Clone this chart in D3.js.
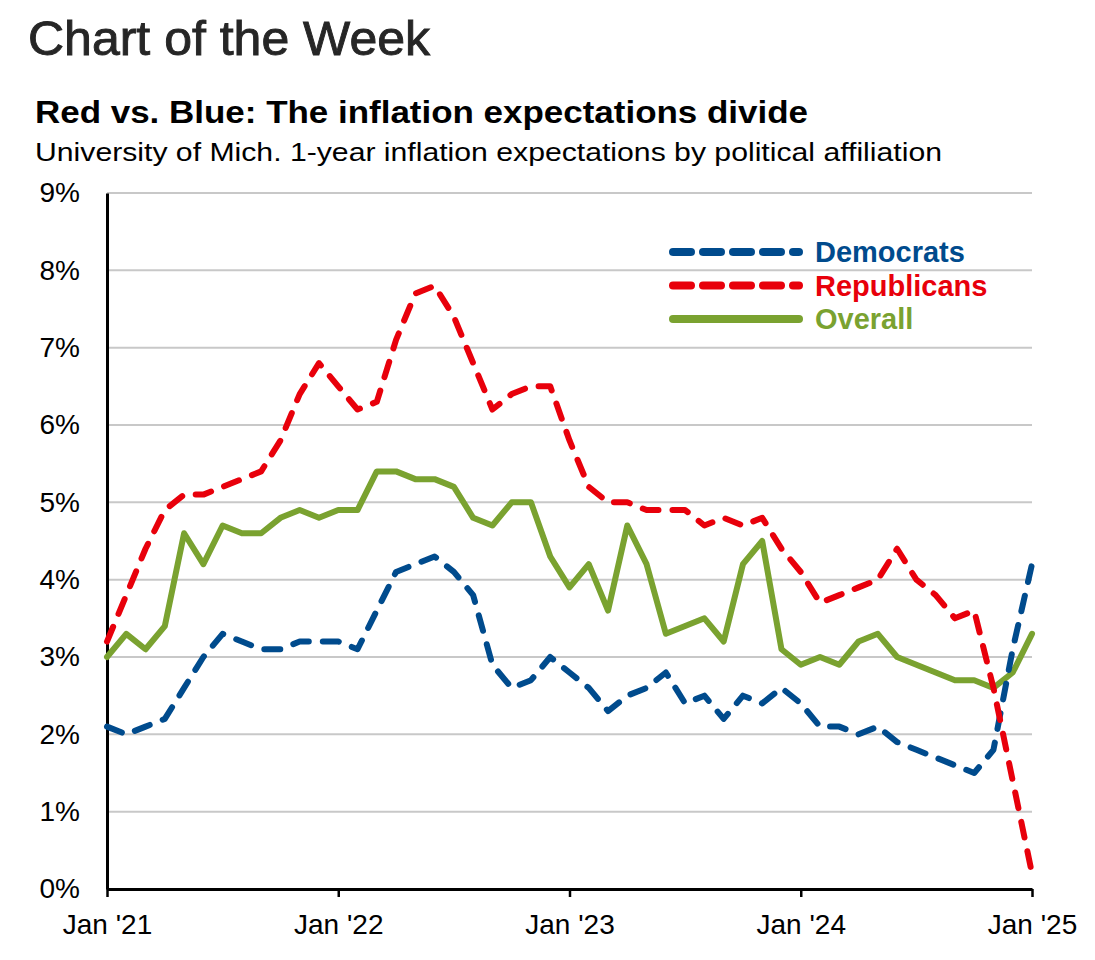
<!DOCTYPE html>
<html>
<head>
<meta charset="utf-8">
<script src="https://cdn.jsdelivr.net/npm/d3@7/dist/d3.min.js"></script>
<style>
  html, body { margin: 0; padding: 0; background: #fff; }
  svg { display: block; font-family: "Liberation Sans", Arial, sans-serif; }
</style>
</head>
<body>
<svg id="chart" width="1095" height="960"></svg>
<script>
// ---- Data (monthly, Jan 2021 – Jan 2025) ----
const startYear = 2021;
const monthCount = 49;
const democrats = [2.1, 2.0, 2.1, 2.2, 2.6, 3.0, 3.3, 3.2, 3.1, 3.1, 3.2, 3.2,
                   3.2, 3.1, 3.6, 4.1, 4.2, 4.3, 4.1, 3.8, 2.9, 2.6, 2.7, 3.0,
                   2.8, 2.6, 2.3, 2.5, 2.6, 2.8, 2.4, 2.5, 2.2, 2.5, 2.4, 2.6,
                   2.4, 2.1, 2.1, 2.0, 2.1, 1.9, 1.8, 1.7, 1.6, 1.5, 1.8, 3.1,
                   4.2];
const republicans = [3.2, 3.8, 4.4, 4.9, 5.1, 5.1, 5.2, 5.3, 5.4, 5.8, 6.4, 6.8,
                     6.5, 6.2, 6.3, 7.1, 7.7, 7.8, 7.4, 6.8, 6.2, 6.4, 6.5, 6.5,
                     5.8, 5.2, 5.0, 5.0, 4.9, 4.9, 4.9, 4.7, 4.8, 4.7, 4.8, 4.4,
                     4.1, 3.7, 3.8, 3.9, 4.0, 4.4, 4.0, 3.8, 3.5, 3.6, 2.6, 1.4,
                     0.2];
const overall = [3.0, 3.3, 3.1, 3.4, 4.6, 4.2, 4.7, 4.6, 4.6, 4.8, 4.9, 4.8,
                 4.9, 4.9, 5.4, 5.4, 5.3, 5.3, 5.2, 4.8, 4.7, 5.0, 5.0, 4.3,
                 3.9, 4.2, 3.6, 4.7, 4.2, 3.3, 3.4, 3.5, 3.2, 4.2, 4.5, 3.1,
                 2.9, 3.0, 2.9, 3.2, 3.3, 3.0, 2.9, 2.8, 2.7, 2.7, 2.6, 2.8,
                 3.3];
const seriesNames = ["Democrats", "Republicans", "Overall"];
const xTickIndex = [0, 12, 24, 36, 48];
const xTickLabels = ["Jan '21", "Jan '22", "Jan '23", "Jan '24", "Jan '25"];
const yTicks = [0, 1, 2, 3, 4, 5, 6, 7, 8, 9];

// ---- Styles ----
const colors = { Democrats: "#004B8D", Republicans: "#E8000B", Overall: "#7AA230" };
const dashed = { Democrats: true, Republicans: true, Overall: false };

const svg = d3.select("#chart");
const plot = { left: 107, right: 1032, top: 193, bottom: 889 };

const x = d3.scaleLinear().domain([0, monthCount - 1]).range([plot.left, plot.right]);
const y = d3.scaleLinear().domain([0, 9]).range([plot.bottom, plot.top]);

// Titles
svg.append("text").attr("x", 28).attr("y", 55)
  .attr("font-size", 48).attr("fill", "#262626")
  .attr("stroke", "#262626").attr("stroke-width", 0.9)
  .attr("textLength", 402).attr("lengthAdjust", "spacingAndGlyphs")
  .text("Chart of the Week");
svg.append("text").attr("x", 35).attr("y", 123)
  .attr("font-size", 31).attr("font-weight", "bold").attr("fill", "#000")
  .attr("textLength", 773).attr("lengthAdjust", "spacingAndGlyphs")
  .text("Red vs. Blue: The inflation expectations divide");
svg.append("text").attr("x", 35).attr("y", 161)
  .attr("font-size", 25).attr("fill", "#000")
  .attr("textLength", 907).attr("lengthAdjust", "spacingAndGlyphs")
  .text("University of Mich. 1-year inflation expectations by political affiliation");

// Gridlines
svg.append("g").selectAll("line").data(yTicks.filter(d => d > 0)).join("line")
  .attr("x1", plot.left).attr("x2", plot.right)
  .attr("y1", d => y(d)).attr("y2", d => y(d))
  .attr("stroke", "#c8c8c8").attr("stroke-width", 2);

// Y axis
const yAxis = svg.append("g").attr("transform", `translate(${plot.left},0)`)
  .call(d3.axisLeft(y).tickValues(yTicks).tickFormat(d => d + "%").tickSize(0).tickPadding(27));
yAxis.select(".domain").attr("stroke", "#000").attr("stroke-width", 3);
yAxis.selectAll("text").attr("font-size", 28).attr("fill", "#000")
  .attr("font-family", "'Liberation Sans', Arial, sans-serif");

// X axis
const xAxis = svg.append("g").attr("transform", `translate(0,${plot.bottom})`)
  .call(d3.axisBottom(x).tickValues(xTickIndex).tickFormat((d, i) => xTickLabels[i]).tickSize(8).tickSizeOuter(0).tickPadding(17));
xAxis.select(".domain").attr("stroke", "#000").attr("stroke-width", 3);
xAxis.selectAll(".tick line").attr("stroke", "#000").attr("stroke-width", 2.5);
xAxis.selectAll("text").attr("font-size", 28).attr("fill", "#000")
  .attr("font-family", "'Liberation Sans', Arial, sans-serif");

// Lines
const line = d3.line().x((d, i) => x(i)).y(d => y(d));
const seriesData = { Democrats: democrats, Republicans: republicans, Overall: overall };
const drawOrder = ["Overall", "Democrats", "Republicans"];
drawOrder.forEach(name => {
  svg.append("path").datum(seriesData[name])
    .attr("d", line)
    .attr("fill", "none")
    .attr("stroke", colors[name])
    .attr("stroke-width", 6)
    .attr("stroke-linecap", "round")
    .attr("stroke-linejoin", "round")
    .attr("stroke-dasharray", dashed[name] ? "16,14" : null);
});

// Legend
const legend = svg.append("g");
seriesNames.forEach((name, i) => {
  const ly = 252 + i * 33.5;
  legend.append("line").attr("x1", 673).attr("x2", 799).attr("y1", ly).attr("y2", ly)
    .attr("stroke", colors[name]).attr("stroke-width", 8)
    .attr("stroke-linecap", "round")
    .attr("stroke-dasharray", dashed[name] ? "18,12" : null);
  legend.append("text").attr("x", 815).attr("y", ly + 10)
    .attr("font-size", 29).attr("font-weight", "bold").attr("fill", colors[name])
    .text(name);
});
</script>
</body>
</html>
